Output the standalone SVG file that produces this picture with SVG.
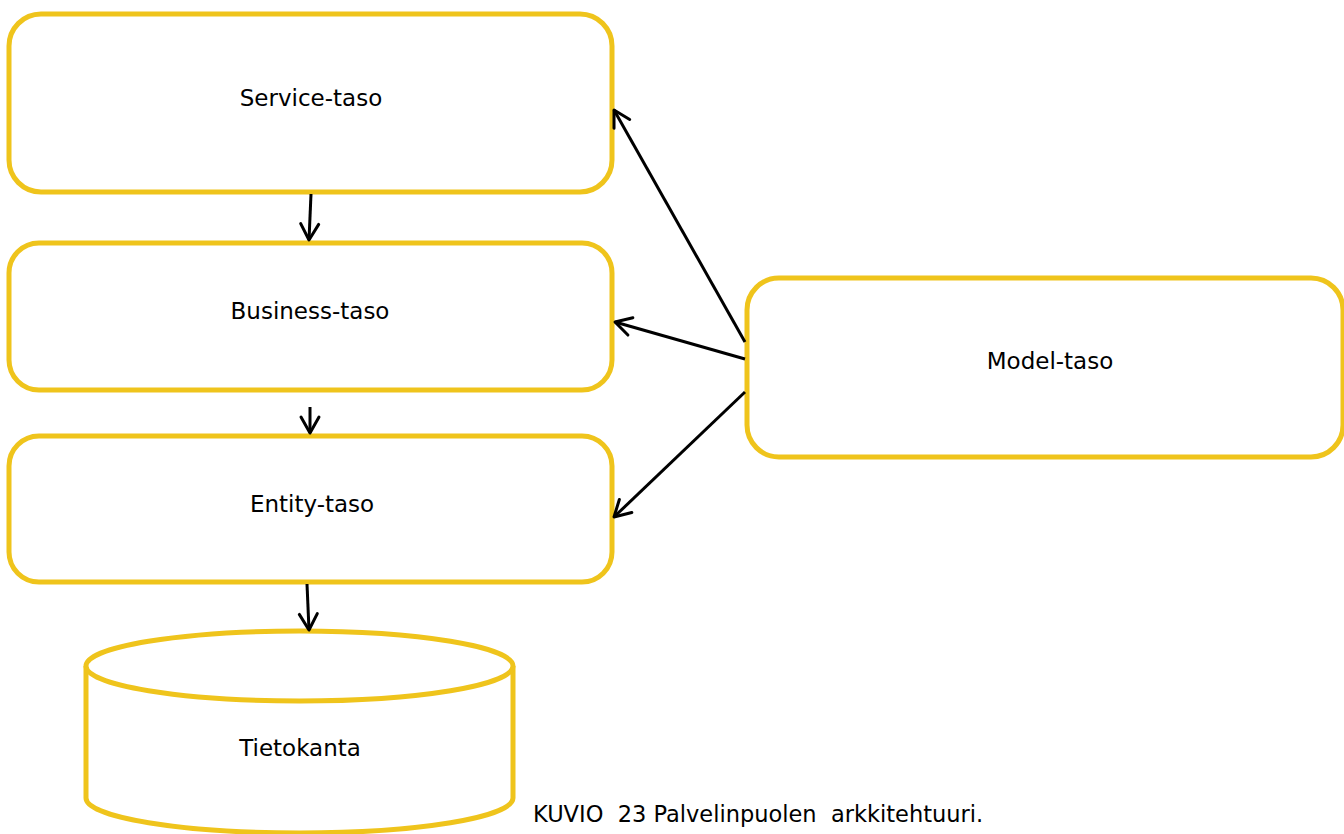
<svg xmlns="http://www.w3.org/2000/svg" width="1344" height="834" viewBox="0 0 1344 834">
  <style>
    .box { fill: #ffffff; stroke: #EFC41C; stroke-width: 5; }
    .lbl { font-family: "DejaVu Sans", sans-serif; font-size: 23px; fill: #000000; text-anchor: middle; dominant-baseline: central; }
    .edge { stroke: #000000; stroke-width: 3; fill: none; marker-end: url(#arrow); }
    .cap { font-family: "DejaVu Sans", sans-serif; font-size: 22.5px; fill: #000000; }
  </style>
  <defs>
    <marker id="arrow" markerUnits="userSpaceOnUse" markerWidth="24" markerHeight="24" refX="20" refY="10" orient="auto" viewBox="0 0 24 20">
      <path d="M4,1 L20,10 L4,19" fill="none" stroke="#000000" stroke-width="3" stroke-linecap="round" stroke-linejoin="round"/>
    </marker>
  </defs>
  <rect width="1344" height="834" fill="#ffffff"/>

  <g id="service">
    <rect class="box" x="9" y="14" width="603" height="178" rx="32" ry="32"/>
    <text class="lbl" x="311" y="98">Service-taso</text>
  </g>
  <g id="business">
    <rect class="box" x="9" y="243" width="603" height="147" rx="30" ry="30"/>
    <text class="lbl" x="310" y="311">Business-taso</text>
  </g>
  <g id="entity">
    <rect class="box" x="9" y="436" width="603" height="146" rx="30" ry="30"/>
    <text class="lbl" x="312" y="504">Entity-taso</text>
  </g>
  <g id="model">
    <rect class="box" x="747" y="278" width="596" height="179" rx="32" ry="32"/>
    <text class="lbl" x="1050" y="361">Model-taso</text>
  </g>
  <g id="tietokanta">
    <path class="box" d="M86,666 L86,798 A213.5,35 0 0 0 513,798 L513,666"/>
    <ellipse class="box" cx="299.5" cy="666" rx="213.5" ry="35"/>
    <text class="lbl" x="300" y="748">Tietokanta</text>
  </g>

  <g id="connectors">
    <line class="edge" x1="311" y1="194" x2="309" y2="240"/>
    <line class="edge" x1="310" y1="407" x2="310" y2="433"/>
    <line class="edge" x1="307" y1="584" x2="309" y2="630"/>
    <line class="edge" x1="745" y1="342" x2="614" y2="110"/>
    <line class="edge" x1="745" y1="359" x2="615" y2="322"/>
    <line class="edge" x1="745" y1="392" x2="614" y2="517"/>
  </g>

  <text class="cap" x="533" y="822" xml:space="preserve">KUVIO  23 Palvelinpuolen  arkkitehtuuri.</text>
</svg>
